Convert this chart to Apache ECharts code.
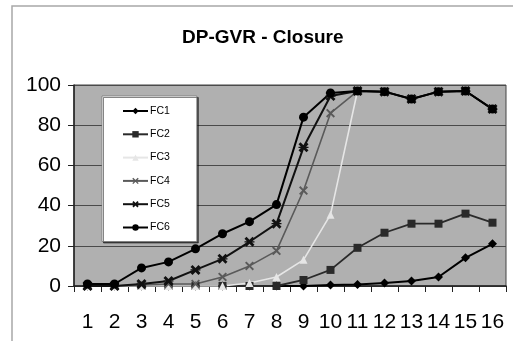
<!DOCTYPE html>
<html>
<head>
<meta charset="utf-8">
<script src="https://cdn.jsdelivr.net/npm/echarts@6/dist/echarts.min.js"></script>
<style>
  html, body { margin: 0; padding: 0; background: #fff; }
  #chart { width: 513px; height: 341px; }
</style>
</head>
<body>
<div id="chart"></div>
<script>
// Categories along the x axis
const categories = ['1','2','3','4','5','6','7','8','9','10','11','12','13','14','15','16'];
const yTicks = [0, 20, 40, 60, 80, 100];

// Series values (percent)
const fc1 = [0, 0, 0, 0, 0, 0, 0, 0, 0, 0.5, 0.8, 1.5, 2.5, 4.5, 14, 21];
const fc2 = [0, 0, 0, 0, 0, 0, 0, 0, 3, 8, 19, 26.5, 31, 31, 36, 31.5];
const fc3 = [0, 0, 0, 0, 0, 0, 1.5, 4.5, 13, 35.5, 97, 96.7, 93, 96.7, 97, 88];
const fc4 = [0, 0, 0.5, 1, 1, 4.5, 10, 17.5, 47.5, 86, 97, 96.7, 93, 96.7, 97, 88];
const fc5 = [0, 0, 1, 2.5, 8, 13.5, 22, 31, 69, 94.5, 97, 96.7, 93, 96.7, 97, 88];
const fc6 = [1, 1, 9, 12, 18.5, 26, 32, 40.5, 84, 96, 97, 96.7, 93, 96.7, 97, 88];

// Marker shapes
const xMark = 'path://M0,1.5 L1.5,0 L5,3.5 L8.5,0 L10,1.5 L6.5,5 L10,8.5 L8.5,10 L5,6.5 L1.5,10 L0,8.5 L3.5,5 Z';
const starMark = 'path://M0,2 L2,0 L5,3 L8,0 L10,2 L7.6,4.4 L10,4.4 L10,5.6 L7.6,5.6 L10,8 L8,10 L5,7 L2,10 L0,8 L2.4,5.6 L0,5.6 L0,4.4 L2.4,4.4 Z';

function line(name, data, color, width, symbol, size, lineType) {
  return {
    name: name,
    type: 'line',
    data: data,
    symbol: symbol,
    symbolSize: size,
    showAllSymbol: true,
    animation: false,
    lineStyle: { color: color, width: width, type: lineType || 'solid' },
    itemStyle: { color: color, borderColor: color, borderWidth: 0 }
  };
}

const chart = echarts.init(document.getElementById('chart'), null, { renderer: 'canvas' });
chart.setOption({
  backgroundColor: '#ffffff',
  animation: false,
  title: {
    text: 'DP-GVR - Closure',
    left: 177,
    top: 23,
    textStyle: { fontFamily: 'Liberation Sans, Arial, sans-serif', fontWeight: 'bold', fontSize: 19, color: '#000' }
  },
  graphic: [
    {
      type: 'rect',
      shape: { x: 12, y: 6, width: 520, height: 360 },
      style: { fill: 'none', stroke: '#a8a8a8', lineWidth: 1.5 },
      silent: true, z: -10
    }
  ],
  legend: {
    orient: 'vertical',
    left: 102,
    top: 96,
    padding: [9, 27, 8, 20],
    itemGap: 11.3,
    itemWidth: 25,
    itemHeight: 8,
    backgroundColor: '#ffffff',
    borderColor: '#777',
    borderWidth: 0.8,
    shadowColor: 'rgba(0,0,0,0.6)',
    shadowOffsetX: 1.5,
    shadowOffsetY: 1.5,
    shadowBlur: 0,
    textStyle: { fontFamily: 'Liberation Sans, Arial, sans-serif', fontSize: 10.5, color: '#000', lineHeight: 12, padding: [0, 0, 0, -3] },
    data: ['FC1', 'FC2', 'FC3', 'FC4', 'FC5', 'FC6']
  },
  grid: {
    left: 74, right: 7, top: 85, bottom: 55,
    show: true,
    backgroundColor: '#b0b0b0',
    borderColor: '#444',
    borderWidth: 1
  },
  xAxis: {
    type: 'category',
    data: categories,
    boundaryGap: true,
    axisLine: { show: true, lineStyle: { color: '#222', width: 1.5 } },
    axisTick: { show: true, inside: false, length: 6, alignWithLabel: false, lineStyle: { color: '#222' } },
    axisLabel: { margin: 26, fontFamily: 'Liberation Sans, Arial, sans-serif', fontSize: 21, color: '#000', interval: 0 },
    splitLine: { show: false }
  },
  yAxis: {
    type: 'value',
    min: yTicks[0],
    max: yTicks[yTicks.length - 1],
    interval: 20,
    axisLine: { show: true, lineStyle: { color: '#222', width: 1.5 } },
    axisTick: { show: true, inside: false, length: 6, lineStyle: { color: '#222' } },
    axisLabel: { margin: 13, fontFamily: 'Liberation Sans, Arial, sans-serif', fontSize: 21, color: '#000' },
    splitLine: { show: true, lineStyle: { color: '#4a4a4a', width: 1.2 } }
  },
  series: [
    line('FC1', fc1, '#000000', 2, 'diamond', 9),
    line('FC2', fc2, '#2a2a2a', 1.8, 'rect', 8),
    line('FC3', fc3, '#e6e6e6', 1.6, 'triangle', 8),
    line('FC4', fc4, '#5a5a5a', 1.6, xMark, 9),
    line('FC5', fc5, '#111111', 2, starMark, 10),
    line('FC6', fc6, '#000000', 2, 'circle', 9)
  ]
});
</script>
</body>
</html>
